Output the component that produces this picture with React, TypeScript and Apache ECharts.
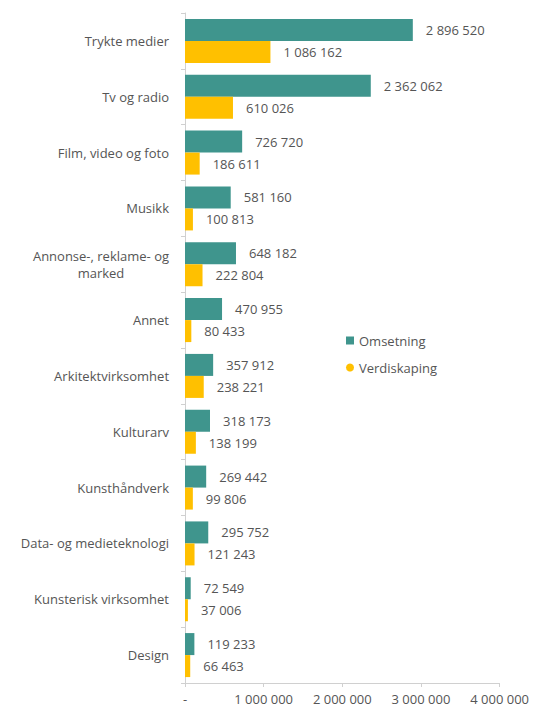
import React, { useEffect, useRef } from "react";
import * as echarts from "echarts";

const categories = [
  "Trykte medier",
  "Tv og radio",
  "Film, video og foto",
  "Musikk",
  "Annonse-, reklame- og\nmarked",
  "Annet",
  "Arkitektvirksomhet",
  "Kulturarv",
  "Kunsthåndverk",
  "Data- og medieteknologi",
  "Kunsterisk virksomhet",
  "Design",
];

const omsetning = [2896520, 2362062, 726720, 581160, 648182, 470955, 357912, 318173, 269442, 295752, 72549, 119233];
const verdiskaping = [1086162, 610026, 186611, 100813, 222804, 80433, 238221, 138199, 99806, 121243, 37006, 66463];

const xTicks = [0, 1000000, 2000000, 3000000, 4000000];

const fmt = (v: number) => String(v).replace(/\B(?=(\d{3})+(?!\d))/g, " ");

const FONT = "Open Sans";
const TEXT = "#555555";
const FS = 13;

export default function App() {
  const ref = useRef<HTMLDivElement>(null);
  useEffect(() => {
    if (!ref.current) return;
    const chart = echarts.init(ref.current, undefined, { renderer: "svg" });
    chart.setOption({
      animation: false,
      textStyle: { fontFamily: FONT },
      legend: {
        orient: "vertical",
        left: 333,
        top: 321,
        itemWidth: 8,
        itemHeight: 8,
        itemGap: 14,
        textStyle: { fontFamily: FONT, fontSize: FS, color: TEXT },
        data: [
          { name: "Omsetning", icon: "rect" },
          { name: "Verdiskaping", icon: "circle" },
        ],
      },
      grid: { left: 177, right: 25, top: 5, bottom: 24, containLabel: false },
      xAxis: {
        type: "value",
        min: xTicks[0],
        max: xTicks[xTicks.length - 1],
        interval: 1000000,
        axisLine: { show: true, lineStyle: { color: "#d0d0d0" } },
        axisTick: { show: true, length: 4, lineStyle: { color: "#d0d0d0" } },
        splitLine: { show: false },
        axisLabel: {
          color: TEXT,
          fontFamily: FONT,
          fontSize: FS,
          margin: 9,
          formatter: (v: number) => (v === 0 ? "-" : fmt(v)),
        },
      },
      yAxis: {
        type: "category",
        inverse: true,
        data: categories,
        axisLine: { show: true, lineStyle: { color: "#d0d0d0" } },
        axisTick: { show: true, length: 4, lineStyle: { color: "#d0d0d0" } },
        axisLabel: {
          color: TEXT,
          fontFamily: FONT,
          fontSize: FS,
          margin: 16,
          lineHeight: 17,
          align: "right",
          formatter: (v: string) =>
            v
              .split("\n")
              .map((line) => `{c|${line}}`)
              .join("\n"),
          rich: {
            c: {
              align: "center",
              color: TEXT,
              fontFamily: FONT,
              fontSize: FS,
              lineHeight: 17,
            },
          },
        },
      },
      series: [
        {
          name: "Omsetning",
          type: "bar",
          data: omsetning,
          barWidth: 22,
          barGap: "0%",
          itemStyle: { color: "#3f958d" },
          label: {
            show: true,
            position: "right",
            distance: 13,
            color: TEXT,
            fontFamily: FONT,
            fontSize: FS,
            formatter: (p: any) => fmt(p.value),
          },
        },
        {
          name: "Verdiskaping",
          type: "bar",
          data: verdiskaping,
          barWidth: 22,
          barGap: "0%",
          itemStyle: { color: "#ffc000" },
          label: {
            show: true,
            position: "right",
            distance: 13,
            color: TEXT,
            fontFamily: FONT,
            fontSize: FS,
            formatter: (p: any) => fmt(p.value),
          },
        },
      ],
    });
    return () => chart.dispose();
  }, []);
  return <div ref={ref} style={{ width: 524, height: 699 }} />;
}
